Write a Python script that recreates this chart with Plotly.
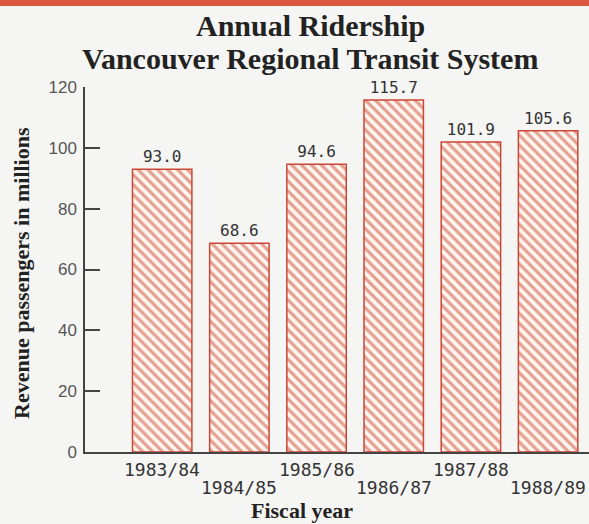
import plotly.graph_objects as go

years = ["1983/84", "1984/85", "1985/86", "1986/87", "1987/88", "1988/89"]
riders = [93.0, 68.6, 94.6, 115.7, 101.9, 105.6]
labels = ["93.0", "68.6", "94.6", "115.7", "101.9", "105.6"]
tick_vals = [0, 20, 40, 60, 80, 100, 120]

red = "#cc4636"
cream = "#fcf6ee"

# plot area in pixels
L, T, W, H = 85, 87, 504, 365

def py(p):  # pixel y -> paper y
    return 1 - (p - T) / H

def px(p):  # pixel x -> paper x
    return (p - L) / W

fig = go.Figure()
fig.add_trace(go.Bar(
    x=years, y=riders, text=labels, textposition="outside",
    textfont=dict(family="DejaVu Sans Mono", size=16, color="#333333"),
    cliponaxis=False,
    width=0.77,
    marker=dict(color=cream, line=dict(color=red, width=1.5),
                pattern=dict(shape="\\", fgcolor=red, bgcolor=cream, size=7, solidity=0.45)),
))

def ann(text, x, y, size, family, xref="paper", angle=0, color="#222222"):
    return dict(text=text, xref=xref, yref="paper", x=x, y=y, showarrow=False,
                xanchor="center", yanchor="middle", textangle=angle,
                font=dict(family=family, size=size, color=color))

annotations = [
    ann("<b>Annual Ridership</b>", px(310), py(26), 30, "Liberation Serif"),
    ann("<b>Vancouver Regional Transit System</b>", px(310), py(58), 30, "Liberation Serif"),
    ann("<b>Revenue passengers in millions</b>", px(21), py(273), 22, "Liberation Serif", angle=-90),
    ann("<b>Fiscal year</b>", px(302), py(510), 22, "Liberation Serif"),
]
for i, yr in enumerate(years):
    annotations.append(ann(yr, yr, py(469.5 if i % 2 == 0 else 487.5), 18,
                           "DejaVu Sans Mono", xref="x", color="#333333"))

fig.update_layout(
    width=589, height=524,
    margin=dict(l=L, r=589 - L - W, t=T, b=524 - T - H),
    paper_bgcolor="#f5f5f3", plot_bgcolor="#f5f5f3",
    showlegend=False,
    xaxis=dict(type="category", range=[-1.0, 5.53], showgrid=False,
               showticklabels=False,
               showline=True, linecolor="#444444", linewidth=1.5, ticks=""),
    yaxis=dict(range=[0, 120], tickvals=tick_vals, showgrid=False, zeroline=False,
               ticks="inside", ticklen=15, tickwidth=1.5, tickcolor="#444444",
               showline=True, linecolor="#444444", linewidth=1.5,
               tickfont=dict(family="Liberation Sans", size=17, color="#555555"),
               ticklabelstandoff=3),
    shapes=[dict(type="rect", xref="paper", yref="paper", x0=-0.2, x1=1.1,
                 y0=py(6), y1=py(-2),
                 fillcolor="#d9583f", line=dict(width=0), layer="above")],
    annotations=annotations,
)

fig.write_html("out.html", config={"displayModeBar": False},
               post_script="document.body.style.margin='0';document.body.style.overflow='hidden';")
